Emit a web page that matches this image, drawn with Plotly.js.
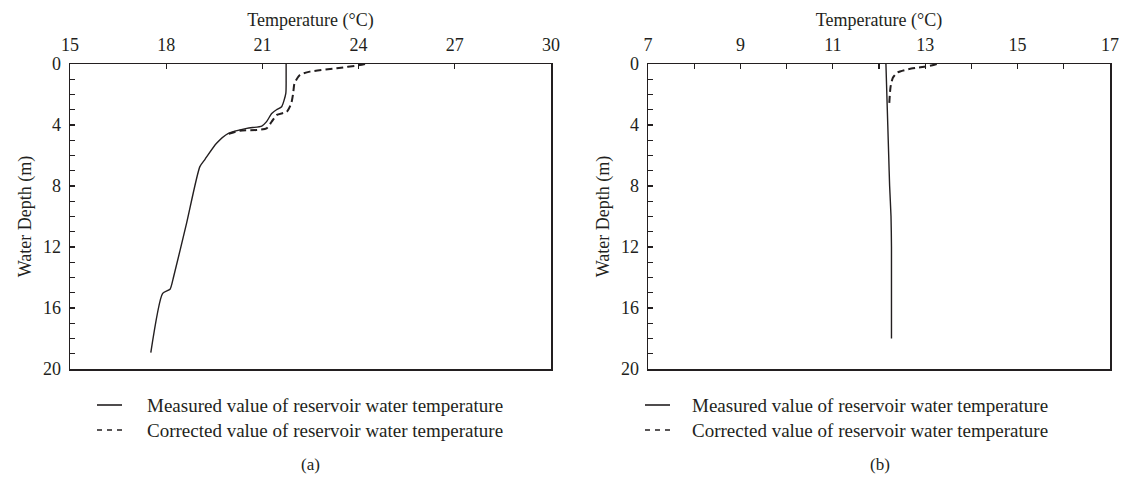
<!DOCTYPE html>
<html>
<head>
<meta charset="utf-8">
<script src="https://cdn.plot.ly/plotly-3.0.1.min.js"></script>
<style>
  html, body { margin: 0; padding: 0; background: #fff; }
  #chart { width: 1137px; height: 486px; }
</style>
</head>
<body>
<div id="chart"></div>
<script>
// (a) Temperature profile, measured vs corrected (temperature °C, depth m)
const aMeasuredTemp  = [21.74, 21.74, 21.73, 21.60, 21.44, 21.29, 21.13, 20.98, 20.51, 19.94, 19.57, 19.21, 19.05, 18.64, 18.22, 18.12, 17.89, 17.52];
const aMeasuredDepth = [0.0,   1.0,   1.92,  2.80,  3.00,  3.24,  3.78,  4.07,  4.22,  4.55,  5.20,  6.25,  6.73,  10.4,  14.05, 14.77, 15.04, 18.93];

const aCorrectedTemp  = [24.20, 24.04, 23.32, 22.48, 22.17, 22.00, 21.96, 21.90, 21.76, 21.45, 21.29, 21.13, 20.82, 20.30, 19.94];
const aCorrectedDepth = [0.0,   0.07,  0.28,  0.50,  0.72,  1.27,  1.92,  2.58,  3.13,  3.34,  3.78,  4.22,  4.33,  4.37,  4.59];

// (b) Temperature profile, measured vs corrected
const bMeasuredTemp  = [12.15, 12.17, 12.19, 12.21, 12.23, 12.26, 12.27, 12.27];
const bMeasuredDepth = [0.0,   2.0,   4.0,   6.0,   8.0,   10.0,  12.0,  18.0];

const bCorrectedTemp  = [13.25, 13.10, 12.70, 12.40, 12.30, 12.25, 12.22];
const bCorrectedDepth = [0.0,   0.12,  0.30,  0.55,  0.90,  1.50,  2.70];

const seriesNames = ['Measured value of reservoir water temperature',
                     'Corrected value of reservoir water temperature'];
const panelLabels = ['(a)', '(b)'];

const ink = '#231f20';
const serif = 'Liberation Serif, Times New Roman, serif';

const solid = { color: ink, width: 1.4, shape: 'spline', smoothing: 0.6 };
const dashed = { color: ink, width: 2, dash: '7px,4px', shape: 'spline', smoothing: 0.6 };

const traces = [
  { x: aMeasuredTemp, y: aMeasuredDepth, xaxis: 'x', yaxis: 'y', mode: 'lines',
    name: seriesNames[0], line: solid },
  { x: aCorrectedTemp, y: aCorrectedDepth, xaxis: 'x', yaxis: 'y', mode: 'lines',
    name: seriesNames[1], line: dashed },
  { x: bMeasuredTemp, y: bMeasuredDepth, xaxis: 'x2', yaxis: 'y2', mode: 'lines',
    name: seriesNames[0], line: solid },
  { x: bCorrectedTemp, y: bCorrectedDepth, xaxis: 'x2', yaxis: 'y2', mode: 'lines',
    name: seriesNames[1], line: dashed }
];

const W = 1137, H = 486;
const yDom = [1 - 369 / H, 1 - 64 / H];
const px = (v) => v / W;
const py = (v) => 1 - v / H;

function tempAxis(domain, range, dtick, minorDtick, anchor) {
  const ax = {
    domain: domain, range: range, side: 'top', anchor: anchor,
    tick0: range[0], dtick: dtick, ticks: 'inside', ticklen: 5, tickwidth: 1.2, tickcolor: ink,
    showline: true, mirror: true, linecolor: ink, linewidth: 1.5,
    showgrid: false, zeroline: false, ticklabelstandoff: 4,
    tickfont: { family: serif, size: 18, color: ink },
    title: { text: 'Temperature (°C)', standoff: 4, font: { family: serif, size: 18, color: ink } },
    fixedrange: true
  };
  if (minorDtick) {
    ax.minor = { dtick: minorDtick, ticks: 'inside', ticklen: 5, tickwidth: 1.2, tickcolor: ink, showgrid: false };
  }
  return ax;
}

function depthAxis(anchor) {
  return {
    domain: yDom, range: [20, 0], anchor: anchor,
    tick0: 0, dtick: 4, ticks: 'inside', ticklen: 5, tickwidth: 1.2, tickcolor: ink,
    minor: { dtick: 1, ticks: 'inside', ticklen: 5, tickwidth: 1.2, tickcolor: ink, showgrid: false },
    showline: true, mirror: true, linecolor: ink, linewidth: 1.5,
    showgrid: false, zeroline: false, ticklabelstandoff: 4,
    tickfont: { family: serif, size: 18, color: ink },
    title: { text: 'Water Depth (m)', standoff: 6, font: { family: serif, size: 18, color: ink } },
    fixedrange: true
  };
}

// Legend keys drawn under each panel: a short line sample followed by its label
const legendRows = [
  { x0: 97,  x1: 122, tx: 145, y: 405, dash: 'solid', width: 1.6, name: seriesNames[0] },
  { x0: 97,  x1: 122, tx: 145, y: 430, dash: '5px,5px', width: 1.6, name: seriesNames[1] },
  { x0: 645, x1: 670, tx: 690, y: 405, dash: 'solid', width: 1.6, name: seriesNames[0] },
  { x0: 645, x1: 670, tx: 690, y: 430, dash: '5px,5px', width: 1.6, name: seriesNames[1] }
];

const shapes = legendRows.map(r => ({
  type: 'line', xref: 'paper', yref: 'paper',
  x0: px(r.x0), x1: px(r.x1), y0: py(r.y), y1: py(r.y),
  line: { color: ink, width: r.width, dash: r.dash }
}));

const annotations = legendRows.map(r => ({
  text: r.name, x: px(r.tx), y: py(r.y), xref: 'paper', yref: 'paper',
  xanchor: 'left', yanchor: 'middle', showarrow: false,
  font: { family: serif, size: 19, color: ink }
})).concat([
  { text: panelLabels[0], x: px(310), y: py(464), xref: 'paper', yref: 'paper',
    xanchor: 'center', yanchor: 'middle', showarrow: false, font: { family: serif, size: 17, color: ink } },
  { text: panelLabels[1], x: px(880), y: py(464), xref: 'paper', yref: 'paper',
    xanchor: 'center', yanchor: 'middle', showarrow: false, font: { family: serif, size: 17, color: ink } }
]);

const layout = {
  width: W, height: H,
  margin: { l: 0, r: 0, t: 0, b: 0 },
  paper_bgcolor: '#fff', plot_bgcolor: '#fff',
  showlegend: false,
  xaxis: tempAxis([px(70), px(551)], [15, 30], 3, null, 'y'),
  yaxis: depthAxis('x'),
  xaxis2: tempAxis([px(648), px(1110)], [7, 17], 2, 1, 'y2'),
  yaxis2: depthAxis('x2'),
  shapes: shapes,
  annotations: annotations
};

Plotly.newPlot('chart', traces, layout, { displayModeBar: false, staticPlot: true });
</script>
</body>
</html>
